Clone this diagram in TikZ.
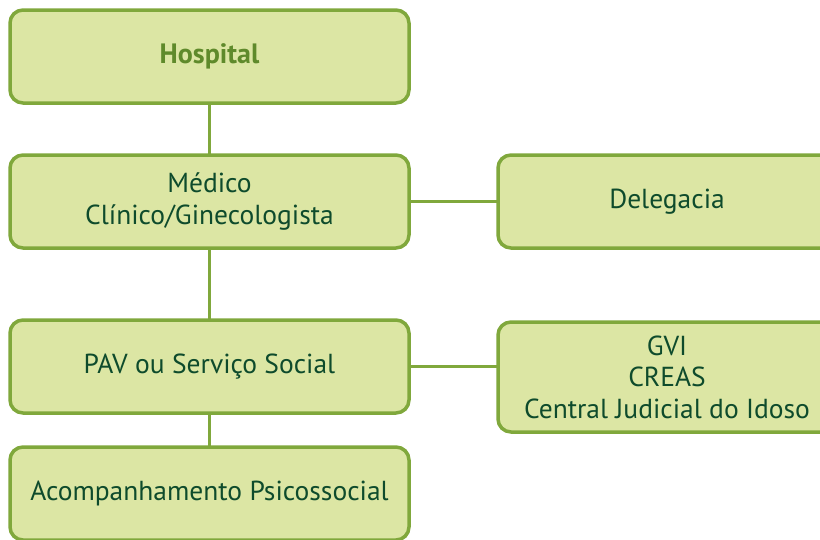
\documentclass[tikz,border=0pt]{standalone}
\usepackage{fontspec}
\setmainfont{PT Sans}
\definecolor{boxfill}{HTML}{DCE6A4}
\definecolor{boxline}{HTML}{80A83C}
\definecolor{txt}{HTML}{0E4B2C}
\definecolor{titletxt}{HTML}{5F8A2B}
\begin{document}
\begin{tikzpicture}[x=1pt,y=-1pt,
  box/.style={draw=boxline,fill=boxfill,line width=3.5pt,rounded corners=13pt,
    align=center,text=txt,font=\fontsize{27.5}{31.5}\selectfont,inner sep=0pt,
    outer sep=0pt},
  leftbox/.style={box,minimum width=399pt,minimum height=93pt},
  rightbox/.style={box,minimum width=338pt},
  link/.style={draw=boxline,line width=3.5pt}]
\useasboundingbox (0,0) rectangle (820,539);
\clip (0,0) rectangle (820,539);
\node[leftbox,text=titletxt,font=\fontsize{28}{31.5}\selectfont\bfseries] (hosp) at (209.5,56.5) {Hospital};
\node[leftbox] (med) at (209.5,201.5) {Médico\\Clínico/Ginecologista};
\node[leftbox] (pav) at (209.5,366.5) {PAV ou Serviço Social};
\node[leftbox] (acomp) at (209.5,493.5) {Acompanhamento Psicossocial};
\node[rightbox,minimum height=93pt] (del) at (667,201.5) {Delegacia};
\node[rightbox,minimum height=110pt] (gvi) at (667,377) {GVI\\CREAS\\Central Judicial do Idoso};
\draw[link] (hosp) -- (med);
\draw[link] (med) -- (pav);
\draw[link] (pav) -- (acomp);
\draw[link] (med.east) -- (del.west);
\draw[link] (pav.east) -- (pav.east -| gvi.west);
\end{tikzpicture}
\end{document}
